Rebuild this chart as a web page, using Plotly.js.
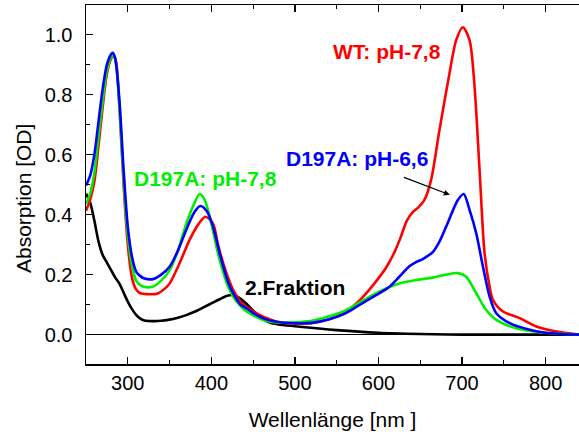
<!DOCTYPE html>
<html>
<head>
<meta charset="utf-8">
<script src="https://cdn.plot.ly/plotly-3.0.1.min.js"></script>
<style>html,body{margin:0;padding:0;background:#fff;}#chart{width:579px;height:432px;}</style>
</head>
<body>
<div id="chart"></div>
<script>
// Wavelengths (nm) and absorbance (OD)
const wlRed = [250,255,260,265,270,275,280,283,286,290,295,300,305,310,315,322,335,345,350,362,374,385,393,402,408,414,420,426,435,442,450,462,480,500,520,540,560,578,595,610,620,626,634,641,648,655,663,673,685,693,701,709,715,721,727,733,737,749,769,789,813,840];
const absRed = [0.413,0.45,0.51,0.63,0.76,0.87,0.92,0.93,0.91,0.76,0.5,0.3,0.19,0.15,0.138,0.135,0.136,0.155,0.17,0.238,0.316,0.37,0.393,0.37,0.3,0.24,0.19,0.149,0.11,0.093,0.078,0.06,0.042,0.037,0.038,0.05,0.075,0.116,0.17,0.227,0.28,0.32,0.38,0.408,0.425,0.449,0.516,0.682,0.871,0.982,1.025,0.982,0.827,0.549,0.271,0.16,0.116,0.077,0.055,0.027,0.01,0.0];

const wlBlue = [250,255,260,265,270,275,280,282,285,290,295,300,305,310,315,320,330,340,350,360,370,380,387,395,402,410,415,420,426,435,442,450,462,480,500,520,540,560,578,595,612,625,637,645,653,665,673,681,690,695,702,709,717,725,733,741,757,781,800,820,840];
const absBlue = [0.497,0.53,0.6,0.71,0.82,0.9,0.935,0.94,0.92,0.78,0.55,0.36,0.26,0.21,0.195,0.187,0.185,0.2,0.226,0.28,0.35,0.41,0.429,0.41,0.36,0.27,0.22,0.175,0.138,0.1,0.088,0.072,0.054,0.042,0.038,0.039,0.05,0.07,0.1,0.128,0.157,0.193,0.228,0.242,0.252,0.275,0.31,0.36,0.42,0.449,0.469,0.416,0.338,0.227,0.127,0.071,0.038,0.016,0.006,0.002,0.0];

const wlGreen = [250,255,260,265,270,275,280,283,286,290,295,300,305,310,315,322,330,340,350,360,370,380,386,392,400,408,414,420,426,435,442,450,462,480,500,520,540,560,578,595,610,626,645,665,681,695,705,717,729,741,765,797,840];
const absGreen = [0.436,0.47,0.54,0.66,0.78,0.88,0.925,0.93,0.9,0.76,0.52,0.33,0.23,0.18,0.165,0.158,0.16,0.18,0.214,0.28,0.37,0.44,0.469,0.45,0.37,0.27,0.21,0.16,0.127,0.095,0.077,0.064,0.049,0.04,0.041,0.046,0.06,0.08,0.108,0.135,0.155,0.171,0.182,0.19,0.2,0.205,0.193,0.138,0.082,0.049,0.021,0.007,0.0];

const wlBlack = [250,255,260,265,270,275,280,285,290,295,300,305,310,315,320,330,340,350,360,370,380,390,400,410,420,425,430,440,450,460,470,480,500,550,600,650,700,840];
const absBlack = [0.47,0.44,0.38,0.31,0.265,0.24,0.215,0.19,0.17,0.14,0.11,0.085,0.066,0.053,0.047,0.045,0.046,0.05,0.056,0.065,0.076,0.09,0.104,0.118,0.13,0.132,0.128,0.108,0.08,0.055,0.04,0.034,0.028,0.015,0.006,0.002,0.0,0.0];

const seriesNames = ["WT: pH-7,8", "D197A: pH-6,6", "D197A: pH-7,8", "2.Fraktion"];
const xTitle = "Wellenlänge [nm ]";
const yTitle = "Absorption [OD]";

const FONT = "Liberation Sans, Arial, Helvetica, sans-serif";

function line(x, y, color, name) {
  return {x: x, y: y, type: 'scatter', mode: 'lines', name: name,
    line: {color: color, width: 2.6, shape: 'spline', smoothing: 0.8}, hoverinfo: 'skip'};
}

const traces = [
  line(wlBlack, absBlack, '#000000', seriesNames[3]),
  line(wlRed, absRed, '#ff0000', seriesNames[0]),
  line(wlGreen, absGreen, '#00ee00', seriesNames[2]),
  line(wlBlue, absBlue, '#0000ff', seriesNames[1])
];

const layout = {
  width: 579, height: 432,
  margin: {l: 86, r: 0, t: 5, b: 68},
  paper_bgcolor: '#fff', plot_bgcolor: '#fff',
  showlegend: false,
  font: {family: FONT, color: '#000', size: 20},
  xaxis: {
    range: [250, 840], showgrid: false, zeroline: false,
    showline: true, linecolor: '#000', linewidth: 1.5, mirror: 'ticks',
    ticks: 'inside', ticklen: 7, tickwidth: 1.3, tickcolor: '#000',
    tick0: 300, dtick: 100,
    minor: {dtick: 50, tick0: 250, ticks: 'inside', ticklen: 4, tickwidth: 1.2, tickcolor: '#000'},
    tickfont: {size: 20, family: FONT},
    title: {text: xTitle, font: {size: 21, family: FONT}, standoff: 20}
  },
  yaxis: {
    range: [-0.098, 1.099], showgrid: false,
    zeroline: true, zerolinecolor: '#000', zerolinewidth: 1.6,
    showline: true, linecolor: '#000', linewidth: 1.5,
    ticks: 'inside', ticklen: 7, tickwidth: 1.3, tickcolor: '#000',
    tick0: 0, dtick: 0.2, tickformat: '.1f', ticklabelstandoff: 8,
    minor: {dtick: 0.1, ticks: 'inside', ticklen: 4, tickwidth: 1.2, tickcolor: '#000'},
    tickfont: {size: 20, family: FONT}
  },
  annotations: [
    {text: yTitle, xref: 'paper', yref: 'paper', x: -0.128, y: 0.462, textangle: -90,
     showarrow: false, font: {size: 21, family: FONT, color: '#000'}, xanchor: 'center', yanchor: 'middle'},
    {text: '<b>' + seriesNames[0] + '</b>', x: 610, y: 0.943, xref: 'x', yref: 'y', showarrow: false,
     font: {size: 21, family: FONT, color: '#ff0000'}},
    {text: '<b>' + seriesNames[1] + '</b>', x: 574, y: 0.586, xref: 'x', yref: 'y', showarrow: false,
     font: {size: 21, family: FONT, color: '#0000ff'}},
    {text: '<b>' + seriesNames[2] + '</b>', x: 393.5, y: 0.519, xref: 'x', yref: 'y', showarrow: false,
     font: {size: 21, family: FONT, color: '#00ee00'}},
    {text: '<b>' + seriesNames[3] + '</b>', x: 500.6, y: 0.156, xref: 'x', yref: 'y', showarrow: false,
     font: {size: 21, family: FONT, color: '#000'}},
    {text: '', x: 685.4, y: 0.466, xref: 'x', yref: 'y', ax: 628.8, ay: 0.526, axref: 'x', ayref: 'y',
     showarrow: true, arrowhead: 2, arrowsize: 1, arrowwidth: 1.2, arrowcolor: '#000'}
  ]
};

Plotly.newPlot('chart', traces, layout, {staticPlot: true, displayModeBar: false});
</script>
</body>
</html>
